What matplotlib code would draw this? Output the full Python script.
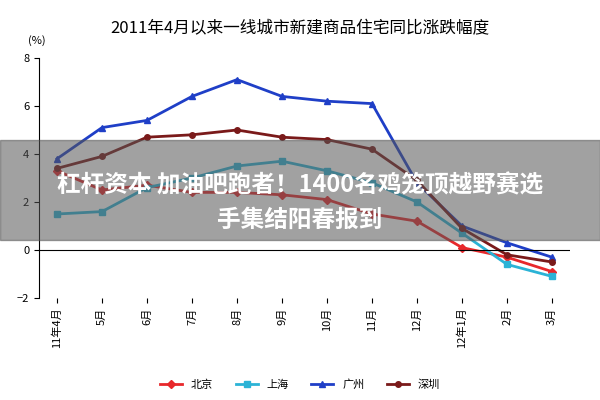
import matplotlib
matplotlib.use("Agg")
import matplotlib.pyplot as plt

plt.rcParams['font.family'] = ['Noto Sans CJK SC', 'DejaVu Sans']

months = ["11年4月", "5月", "6月", "7月", "8月", "9月", "10月", "11月", "12月", "12年1月", "2月", "3月"]
beijing = [3.3, 2.5, 2.7, 2.4, 2.4, 2.3, 2.1, 1.5, 1.2, 0.1, -0.3, -0.9]
shanghai = [1.5, 1.6, 2.6, 3.0, 3.5, 3.7, 3.3, 2.8, 2.0, 0.7, -0.6, -1.1]
guangzhou = [3.8, 5.1, 5.4, 6.4, 7.1, 6.4, 6.2, 6.1, 2.8, 1.0, 0.3, -0.3]
shenzhen = [3.4, 3.9, 4.7, 4.8, 5.0, 4.7, 4.6, 4.2, 2.9, 0.9, -0.2, -0.5]

fig = plt.figure(figsize=(6, 4), dpi=100)
ax = fig.add_axes([0.065, 0.255, 0.885, 0.6])
x = range(len(months))
ax.plot(x, beijing, color='#e8282b', marker='D', ms=4, lw=2, label='北京')
ax.plot(x, shanghai, color='#2bb3d6', marker='s', ms=4, lw=2, label='上海')
ax.plot(x, guangzhou, color='#1f3fc7', marker='^', ms=5, lw=2, label='广州')
ax.plot(x, shenzhen, color='#7a1a1a', marker='o', ms=4, lw=2, label='深圳')
ax.set_ylim(-2, 8)
ax.set_xlim(-0.4, len(months) - 0.6)
ax.set_yticks([-2, 0, 2, 4, 6, 8])
ax.set_xticks(list(x))
ax.set_xticklabels(months, rotation=90, fontsize=8)
ax.tick_params(axis='y', labelsize=8)
ax.axhline(0, color='black', lw=0.8)
for s in ['top', 'right', 'bottom']:
    ax.spines[s].set_visible(False)
ax.text(-0.02, 1.06, '(%)', transform=ax.transAxes, fontsize=8)
fig.suptitle('2011年4月以来一线城市新建商品住宅同比涨跌幅度', y=0.95, fontsize=12)
fig.legend(loc='lower center', ncol=4, frameon=False, fontsize=8, bbox_to_anchor=(0.5, 0.0))

fig.patches.append(plt.Rectangle((0, 0.4), 1, 0.25, transform=fig.transFigure,
                                 color='#555555', alpha=0.55, zorder=5))
fig.text(0.5, 0.537, '杠杆资本 加油吧跑者！1400名鸡笼顶越野赛选', ha='center', va='center',
         color='white', fontsize=17, fontweight='bold', zorder=6)
fig.text(0.5, 0.45, '手集结阳春报到', ha='center', va='center',
         color='white', fontsize=17, fontweight='bold', zorder=6)
fig.savefig('out.png')
